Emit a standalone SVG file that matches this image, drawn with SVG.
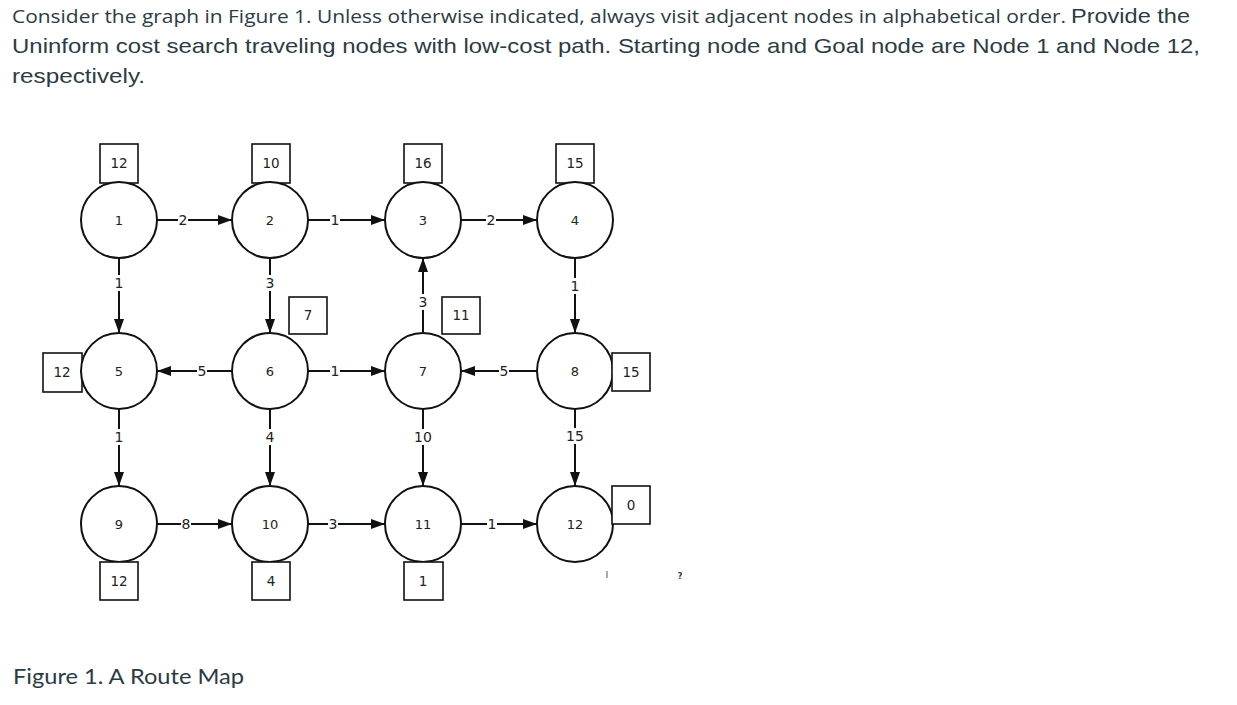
<svg xmlns="http://www.w3.org/2000/svg" width="1237" height="705" viewBox="0 0 1237 705">
<style>
.hdr{font-family:"Open Sans","Liberation Sans",sans-serif;font-size:18px;fill:#2d3b45}
.hdr2{font-family:"Liberation Sans",Arial,sans-serif;font-size:21px;fill:#2d3b45}
.cap{font-family:Lato,"Liberation Sans",sans-serif;font-size:22px;fill:#2d3b45}
.node circle{fill:#fff;stroke:#111;stroke-width:2}
.node rect{fill:#fff;stroke:#111;stroke-width:1.6}
.nt{font-family:"DejaVu Sans","Liberation Sans",sans-serif;font-size:13px;fill:#222;text-anchor:middle;dominant-baseline:central}
.bt{font-family:"DejaVu Sans","Liberation Sans",sans-serif;font-size:13.5px;fill:#222;text-anchor:middle;dominant-baseline:central}
.edge line{stroke:#111;stroke-width:2;marker-end:url(#ah)}
.edge rect{fill:#fff}
.el{font-family:"DejaVu Sans","Liberation Sans",sans-serif;font-size:14px;fill:#222;text-anchor:middle;dominant-baseline:central}
</style>
<defs>
<marker id="ah" viewBox="0 0 14 10" refX="14" refY="5" markerWidth="14" markerHeight="10" markerUnits="userSpaceOnUse" orient="auto">
<path d="M0,0 L14,5 L0,10 z" fill="#111"/>
</marker>
</defs>
<rect width="1237" height="705" fill="#fff"/>
<text class="hdr" x="12" y="23" textLength="1054" lengthAdjust="spacingAndGlyphs">Consider the graph in Figure 1. Unless otherwise indicated, always visit adjacent nodes in alphabetical order.</text>
<text class="hdr2" x="1071" y="23" textLength="119" lengthAdjust="spacingAndGlyphs">Provide the</text>
<text class="hdr2" x="12" y="53" textLength="1188" lengthAdjust="spacingAndGlyphs">Uninform cost search traveling nodes with low-cost path. Starting node and Goal node are Node 1 and Node 12,</text>
<text class="hdr2" x="12" y="83" textLength="133" lengthAdjust="spacingAndGlyphs">respectively.</text>
<g id="connectors" class="edge">
<line x1="157" y1="220" x2="232" y2="220"/>
<line x1="308" y1="220" x2="385" y2="220"/>
<line x1="461" y1="220" x2="537" y2="220"/>
<line x1="232" y1="371" x2="157" y2="371"/>
<line x1="308" y1="371" x2="385" y2="371"/>
<line x1="537" y1="371" x2="461" y2="371"/>
<line x1="157" y1="524" x2="232" y2="524"/>
<line x1="308" y1="524" x2="385" y2="524"/>
<line x1="461" y1="524" x2="537" y2="524"/>
<line x1="119" y1="258" x2="119" y2="333"/>
<line x1="270" y1="258" x2="270" y2="333"/>
<line x1="423" y1="333" x2="423" y2="258"/>
<line x1="575" y1="258" x2="575" y2="333"/>
<line x1="119" y1="409" x2="119" y2="486"/>
<line x1="270" y1="409" x2="270" y2="486"/>
<line x1="423" y1="409" x2="423" y2="486"/>
<line x1="575" y1="409" x2="575" y2="486"/>
<rect x="178" y="212" width="10" height="16"/><text class="el" x="183" y="220">2</text>
<rect x="330" y="212" width="10" height="16"/><text class="el" x="335" y="220">1</text>
<rect x="486" y="212" width="10" height="16"/><text class="el" x="491" y="220">2</text>
<rect x="197" y="363" width="10" height="16"/><text class="el" x="202" y="371">5</text>
<rect x="330" y="363" width="10" height="16"/><text class="el" x="335" y="371">1</text>
<rect x="499" y="363" width="10" height="16"/><text class="el" x="504" y="371">5</text>
<rect x="181" y="516" width="10" height="16"/><text class="el" x="186" y="524">8</text>
<rect x="328" y="516" width="10" height="16"/><text class="el" x="333" y="524">3</text>
<rect x="487" y="516" width="10" height="16"/><text class="el" x="492" y="524">1</text>
<rect x="113" y="275" width="12" height="16"/><text class="el" x="119" y="283">1</text>
<rect x="264" y="275" width="12" height="16"/><text class="el" x="270" y="283">3</text>
<rect x="417" y="294" width="12" height="16"/><text class="el" x="423" y="302">3</text>
<rect x="569" y="278" width="12" height="16"/><text class="el" x="575" y="286">1</text>
<rect x="113" y="429" width="12" height="16"/><text class="el" x="119" y="437">1</text>
<rect x="264" y="429" width="12" height="16"/><text class="el" x="270" y="437">4</text>
<rect x="412" y="429" width="22" height="16"/><text class="el" x="423" y="437">10</text>
<rect x="564" y="428" width="22" height="16"/><text class="el" x="575" y="436">15</text>
</g>
<g id="n1" class="node"><rect x="100" y="144" width="38" height="39"/><text class="bt" x="119" y="163">12</text><circle cx="119" cy="220" r="38"/><text class="nt" x="119" y="220">1</text></g>
<g id="n2" class="node"><rect x="252" y="144" width="38" height="39"/><text class="bt" x="271" y="163">10</text><circle cx="270" cy="220" r="38"/><text class="nt" x="270" y="220">2</text></g>
<g id="n3" class="node"><rect x="404" y="144" width="38" height="39"/><text class="bt" x="423" y="163">16</text><circle cx="423" cy="220" r="38"/><text class="nt" x="423" y="220">3</text></g>
<g id="n4" class="node"><rect x="556" y="144" width="38" height="39"/><text class="bt" x="575" y="163">15</text><circle cx="575" cy="220" r="38"/><text class="nt" x="575" y="220">4</text></g>
<g id="n5" class="node"><rect x="43" y="353" width="39" height="39"/><text class="bt" x="62" y="372">12</text><circle cx="119" cy="371" r="38"/><text class="nt" x="119" y="371">5</text></g>
<g id="n6" class="node"><rect x="289" y="297" width="38" height="37"/><text class="bt" x="308" y="315">7</text><circle cx="270" cy="371" r="38"/><text class="nt" x="270" y="371">6</text></g>
<g id="n7" class="node"><rect x="442" y="297" width="38" height="37"/><text class="bt" x="461" y="315">11</text><circle cx="423" cy="371" r="38"/><text class="nt" x="423" y="371">7</text></g>
<g id="n8" class="node"><circle cx="575" cy="371" r="38"/><text class="nt" x="575" y="371">8</text><rect x="612" y="353" width="38" height="38"/><text class="bt" x="631" y="372">15</text></g>
<g id="n9" class="node"><circle cx="119" cy="524" r="38"/><text class="nt" x="119" y="524">9</text><rect x="100" y="562" width="38" height="38"/><text class="bt" x="119" y="581">12</text></g>
<g id="n10" class="node"><circle cx="270" cy="524" r="38"/><text class="nt" x="270" y="524">10</text><rect x="252" y="562" width="38" height="38"/><text class="bt" x="271" y="581">4</text></g>
<g id="n11" class="node"><circle cx="423" cy="524" r="38"/><text class="nt" x="423" y="524">11</text><rect x="404" y="562" width="39" height="38"/><text class="bt" x="423" y="581">1</text></g>
<g id="n12" class="node"><circle cx="575" cy="524" r="38"/><text class="nt" x="575" y="524">12</text><rect x="612" y="486" width="38" height="38"/><text class="bt" x="631" y="505">0</text></g>
<line x1="607" y1="571" x2="607" y2="578" stroke="#555" stroke-width="1"/>
<text x="680" y="579" font-family="DejaVu Sans, sans-serif" font-size="8" font-weight="bold" fill="#333" text-anchor="middle">?</text>
<text class="cap" x="13" y="684" textLength="231" lengthAdjust="spacingAndGlyphs">Figure 1. A Route Map</text>
</svg>
